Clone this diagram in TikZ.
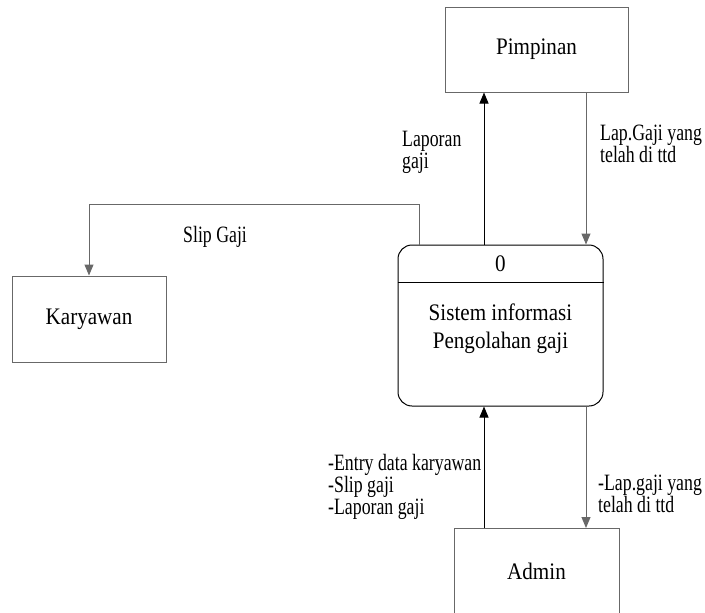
\documentclass[tikz,border=0pt]{standalone}
\usepackage{fontspec}
\setmainfont{Liberation Serif}
\newfontfamily\boxfont{Liberation Serif}[FakeStretch=0.89]
\newfontfamily\labelfont{Liberation Serif}[FakeStretch=0.76]
\usetikzlibrary{arrows.meta}
\definecolor{linegray}{HTML}{686868}
\begin{document}
\begin{tikzpicture}[x=1pt,y=-1pt,
  entity/.style={draw=linegray,line width=1pt,rectangle,inner sep=0pt,font=\boxfont\fontsize{23.7}{28}\selectfont},
  boxtext/.style={inner sep=0pt,align=center,font=\boxfont\fontsize{23.7}{28}\selectfont},
  flowlabel/.style={inner sep=0pt,align=left,anchor=base west,font=\labelfont\fontsize{23.4}{22}\selectfont},
  arr/.style={line width=1pt,-{Triangle[length=11pt,width=9pt]}},
  grayarr/.style={arr,draw=linegray}]
\useasboundingbox (0,0) rectangle (705,613);
\clip (0,0) rectangle (705,613);
% entities
\node[entity,minimum width=183pt,minimum height=85pt] (pim) at (536.5,49.5) {Pimpinan};
\node[entity,minimum width=154pt,minimum height=86pt] (kar) at (89,319) {Karyawan};
\node[entity,minimum width=165pt,minimum height=86pt] (adm) at (536.5,571.5) {Admin};
% process
\node[draw=black,line width=1pt,rounded corners=14pt,rectangle,minimum width=205pt,minimum height=161pt] (proc) at (500.5,325.5) {};
\coordinate (div) at (0,282);
\draw[line width=1pt] (proc.west |- div) -- (proc.east |- div);
\node[boxtext] (pnum) at (500.5,264) {0};
\node[boxtext] (ptext) at (500.5,328.5) {Sistem informasi\\Pengolahan gaji};
% x positions of flows
\coordinate (xa) at (484,0);
\coordinate (xb) at (586,0);
\coordinate (xs) at (419,0);
% flows
\draw[arr] (proc.north -| xa) -- (pim.south -| xa);
\draw[grayarr] (pim.south -| xb) -- (proc.north -| xb);
\draw[grayarr] (proc.north -| xs) -- ++(0,-40) -| (kar.north);
\draw[arr] (adm.north -| xa) -- (proc.south -| xa);
\draw[grayarr] (proc.south -| xb) -- (adm.north -| xb);
% labels (base anchor = baseline of the last line)
\node[flowlabel] (l1) at (402,168.5) {Laporan\\gaji};
\node[flowlabel] (l2) at (600,162) {Lap.Gaji yang\\telah di ttd};
\node[flowlabel] (l3) at (183,242.5) {Slip Gaji};
\node[flowlabel] (l4) at (328,514) {-Entry data karyawan\\-Slip gaji\\-Laporan gaji};
\node[flowlabel] (l5) at (598,512) {-Lap.gaji yang\\telah di ttd};
\end{tikzpicture}
\end{document}
